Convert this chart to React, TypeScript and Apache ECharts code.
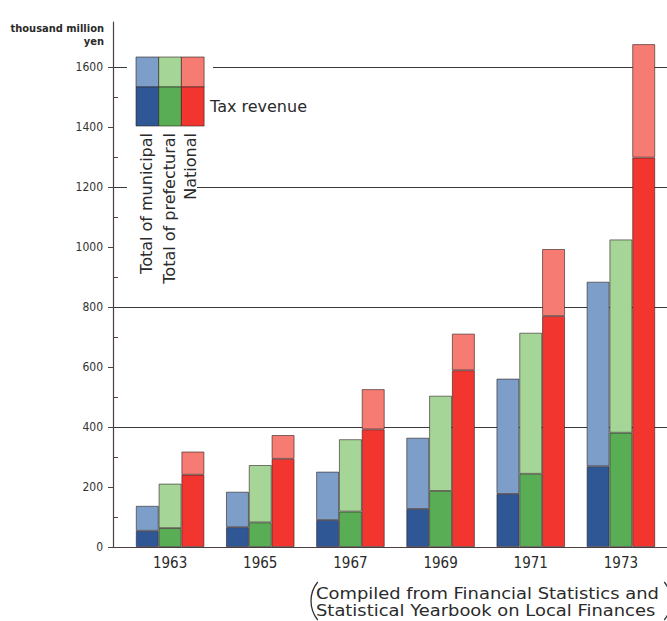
import React, { useEffect, useRef } from "react";
import * as echarts from "echarts";

// Tax revenue vs. totals, thousand million yen
const years = ["1963", "1965", "1967", "1969", "1971", "1973"];
const municipalTotal = [137, 184, 251, 364, 561, 884];
const municipalTax = [54, 66, 90, 127, 177, 269];
const prefecturalTotal = [211, 273, 359, 504, 714, 1025];
const prefecturalTax = [63, 82, 118, 187, 244, 381];
const nationalTotal = [318, 373, 526, 711, 993, 1676];
const nationalTax = [241, 294, 392, 589, 770, 1298];

const yLabelValues = [0, 200, 400, 600, 800, 1000, 1200, 1400, 1600];
const minorTickValues = [100, 300, 500, 700, 900, 1100, 1300, 1500];
const Y_MAX = 1750;

const COLORS = {
  municipalDark: "#2f5796",
  municipalLight: "#7d9ec8",
  prefecturalDark: "#58ad55",
  prefecturalLight: "#a6d697",
  nationalDark: "#f2362f",
  nationalLight: "#f67b72",
};

const AXIS_COLOR = "#4d4040";
const TEXT_COLOR = "#2a2a2a";
const BORDER = "rgba(45,30,30,0.75)";

const rest = (total: number[], part: number[]) => total.map((t, i) => t - part[i]);

export default function App() {
  const ref = useRef<HTMLDivElement>(null);

  useEffect(() => {
    if (!ref.current) return;
    const chart = echarts.init(ref.current, null, { renderer: "svg" });

    const barBase = {
      type: "bar" as const,
      xAxisIndex: 0,
      yAxisIndex: 0,
      barWidth: 22.8,
      barGap: "0%",
      itemStyle: { borderColor: BORDER, borderWidth: 0.8 },
    };

    const legendCols = [
      { x: 136, dark: COLORS.municipalDark, light: COLORS.municipalLight, label: "Total of municipal", cx: 146 },
      { x: 158.7, dark: COLORS.prefecturalDark, light: COLORS.prefecturalLight, label: "Total of prefectural", cx: 169.5 },
      { x: 181.4, dark: COLORS.nationalDark, light: COLORS.nationalLight, label: "National", cx: 190.5 },
    ];

    const graphics: any[] = [
      // clear gridlines behind the key
      { type: "rect", z: 50, shape: { x: 127, y: 48, width: 86, height: 84 }, style: { fill: "#fff" } },
      { type: "rect", z: 50, shape: { x: 127, y: 130, width: 70, height: 165 }, style: { fill: "#fff" } },
      {
        type: "text",
        z: 60,
        x: 104,
        y: 28,
        style: {
          text: "thousand million",
          fill: TEXT_COLOR,
          font: 'bold 11px "DejaVu Sans Condensed"',
          align: "right",
          verticalAlign: "middle",
        },
      },
      {
        type: "text",
        z: 60,
        x: 104,
        y: 41,
        style: {
          text: "yen",
          fill: TEXT_COLOR,
          font: 'bold 11px "DejaVu Sans Condensed"',
          align: "right",
          verticalAlign: "middle",
        },
      },
      {
        type: "text",
        z: 60,
        x: 210,
        y: 106,
        style: {
          text: "Tax revenue",
          fill: TEXT_COLOR,
          font: '16px "DejaVu Sans"',
          align: "left",
          verticalAlign: "middle",
        },
      },
      {
        type: "text",
        z: 60,
        x: 316,
        y: 593,
        scaleX: 1.12,
        style: {
          text: "Compiled from Financial Statistics and",
          fill: TEXT_COLOR,
          font: '16px "DejaVu Sans"',
          align: "left",
          verticalAlign: "middle",
        },
      },
      {
        type: "text",
        z: 60,
        x: 316,
        y: 610,
        scaleX: 1.12,
        style: {
          text: "Statistical Yearbook on Local Finances",
          fill: TEXT_COLOR,
          font: '16px "DejaVu Sans"',
          align: "left",
          verticalAlign: "middle",
        },
      },
      {
        type: "arc",
        z: 60,
        shape: { cx: 341, cy: 601, r: 30, startAngle: Math.PI - 0.685, endAngle: Math.PI + 0.685, clockwise: true },
        style: { stroke: "#333", lineWidth: 1.3, fill: "none" },
      },
      {
        type: "arc",
        z: 60,
        shape: { cx: 641, cy: 601, r: 30, startAngle: -0.685, endAngle: 0.685, clockwise: true },
        style: { stroke: "#333", lineWidth: 1.3, fill: "none" },
      },
    ];

    legendCols.forEach((c) => {
      graphics.push({
        type: "rect",
        z: 55,
        shape: { x: c.x, y: 57, width: 22.7, height: 30 },
        style: { fill: c.light, stroke: BORDER, lineWidth: 0.8 },
      });
      graphics.push({
        type: "rect",
        z: 55,
        shape: { x: c.x, y: 87, width: 22.7, height: 39 },
        style: { fill: c.dark, stroke: BORDER, lineWidth: 0.8 },
      });
      graphics.push({
        type: "text",
        z: 60,
        x: c.cx,
        y: 133,
        rotation: Math.PI / 2,
        style: {
          text: c.label,
          fill: TEXT_COLOR,
          font: '16px "DejaVu Sans"',
          align: "right",
          verticalAlign: "middle",
        },
      });
    });

    chart.setOption({
      animation: false,
      backgroundColor: "#fff",
      grid: [
        { left: 125, right: 1, top: 22, bottom: 74 },
        { left: 113, right: 0, top: 22, bottom: 74 },
      ],
      xAxis: [
        {
          type: "category",
          gridIndex: 0,
          data: years,
          axisLine: { show: false },
          axisTick: { show: false },
          axisLabel: {
            color: TEXT_COLOR,
            fontFamily: "DejaVu Sans Condensed",
            fontSize: 15,
            margin: 8,
          },
        },
        {
          type: "value",
          gridIndex: 1,
          min: 0,
          max: 1,
          axisLine: { show: true, onZero: false, lineStyle: { color: AXIS_COLOR, width: 1.2 } },
          axisTick: { show: false },
          axisLabel: { show: false },
          splitLine: { show: false },
        },
      ],
      yAxis: [
        {
          type: "value",
          gridIndex: 0,
          position: "left",
          min: 0,
          max: Y_MAX,
          show: false,
          splitLine: { show: false },
        },
        {
          type: "value",
          gridIndex: 1,
          position: "left",
          offset: 0,
          min: 0,
          max: Y_MAX,
          interval: 200,
          axisLine: { show: true, lineStyle: { color: AXIS_COLOR, width: 1.2 } },
          axisTick: {
            show: true,
            length: 5,
            inside: false,
            customValues: yLabelValues,
            lineStyle: { color: AXIS_COLOR },
          },
          axisLabel: {
            customValues: yLabelValues,
            formatter: (v: number) => (v % 200 === 0 ? String(v) : ""),
            color: "#333",
            fontFamily: "DejaVu Sans Condensed",
            fontSize: 12,
            margin: 10,
          },
          splitLine: { show: false },
        },
        {
          type: "value",
          gridIndex: 1,
          position: "left",
          offset: 0,
          min: 0,
          max: Y_MAX,
          interval: 100,
          axisLine: { show: false },
          axisTick: {
            show: true,
            inside: true,
            length: 5,
            customValues: minorTickValues,
            lineStyle: { color: AXIS_COLOR },
          },
          axisLabel: { show: false },
          splitLine: { show: false },
        },
        {
          type: "value",
          gridIndex: 1,
          position: "left",
          offset: 0,
          min: 0,
          max: Y_MAX,
          interval: 400,
          axisLine: { show: false },
          axisTick: { show: false },
          axisLabel: { show: false },
          splitLine: {
            show: true,
            showMinLine: false,
            showMaxLine: false,
            lineStyle: { color: "#3a3a3a", width: 1 },
          },
        },
      ],
      graphic: graphics,
      series: [
        { ...barBase, name: "Municipal tax", stack: "m", data: municipalTax, itemStyle: { ...barBase.itemStyle, color: COLORS.municipalDark } },
        { ...barBase, name: "Municipal other", stack: "m", data: rest(municipalTotal, municipalTax), itemStyle: { ...barBase.itemStyle, color: COLORS.municipalLight } },
        { ...barBase, name: "Prefectural tax", stack: "p", data: prefecturalTax, itemStyle: { ...barBase.itemStyle, color: COLORS.prefecturalDark } },
        { ...barBase, name: "Prefectural other", stack: "p", data: rest(prefecturalTotal, prefecturalTax), itemStyle: { ...barBase.itemStyle, color: COLORS.prefecturalLight } },
        { ...barBase, name: "National tax", stack: "n", data: nationalTax, itemStyle: { ...barBase.itemStyle, color: COLORS.nationalDark } },
        { ...barBase, name: "National other", stack: "n", data: rest(nationalTotal, nationalTax), itemStyle: { ...barBase.itemStyle, color: COLORS.nationalLight } },
      ],
    });

    return () => chart.dispose();
  }, []);

  return (
    <div
      ref={ref}
      style={{ position: "fixed", left: 0, top: 0, width: 667, height: 621, background: "#fff" }}
    />
  );
}
